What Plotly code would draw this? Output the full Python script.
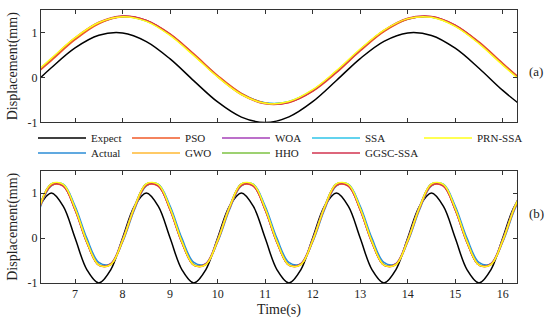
import plotly.graph_objects as go
from plotly.subplots import make_subplots

# ---------------- data ----------------
t_a = [6.0, 6.5, 7.0, 7.5, 8.0, 8.5, 9.0, 9.5, 10.0, 10.5, 11.0,
       11.5, 12.0, 12.5, 13.0, 13.5, 14.0, 14.5, 15.0, 15.5, 16.0, 16.5]

expect_a = [-0.279, 0.215, 0.657, 0.938, 0.989, 0.798, 0.412, -0.075, -0.544, -0.880, -1.000,
            -0.875, -0.537, -0.066, 0.420, 0.804, 0.991, 0.935, 0.650, 0.206, -0.288, -0.712]
actual_a = [-0.066, 0.400, 0.864, 1.210, 1.352, 1.258, 0.952, 0.506, 0.030, -0.362, -0.565,
            -0.540, -0.288, 0.130, 0.610, 1.035, 1.300, 1.342, 1.150, 0.772, 0.296, -0.156]
pso_a = [-0.085, 0.375, 0.840, 1.195, 1.350, 1.270, 0.970, 0.525, 0.045, -0.352, -0.570,
         -0.555, -0.310, 0.105, 0.588, 1.020, 1.295, 1.348, 1.165, 0.790, 0.315, -0.140]
gwo_a = [-0.058, 0.412, 0.874, 1.218, 1.355, 1.258, 0.948, 0.498, 0.020, -0.372, -0.575,
         -0.542, -0.284, 0.138, 0.620, 1.044, 1.306, 1.343, 1.145, 0.765, 0.287, -0.166]
woa_a = [-0.072, 0.398, 0.864, 1.214, 1.362, 1.268, 0.958, 0.508, 0.028, -0.368, -0.574,
         -0.548, -0.295, 0.126, 0.608, 1.037, 1.306, 1.350, 1.156, 0.776, 0.297, -0.158]
hho_a = [-0.070, 0.400, 0.866, 1.214, 1.357, 1.262, 0.953, 0.505, 0.027, -0.366, -0.570,
         -0.543, -0.290, 0.130, 0.611, 1.037, 1.303, 1.345, 1.150, 0.772, 0.294, -0.160]
ssa_a = [-0.064, 0.404, 0.866, 1.210, 1.350, 1.255, 0.950, 0.505, 0.032, -0.358, -0.560,
         -0.534, -0.284, 0.132, 0.610, 1.034, 1.298, 1.340, 1.148, 0.772, 0.298, -0.152]
ggsc_a = [-0.060, 0.410, 0.880, 1.228, 1.368, 1.270, 0.958, 0.505, 0.022, -0.378, -0.585,
          -0.556, -0.300, 0.125, 0.612, 1.045, 1.315, 1.355, 1.158, 0.775, 0.293, -0.165]
prn_a = [-0.050, 0.425, 0.885, 1.222, 1.352, 1.248, 0.935, 0.485, 0.012, -0.378, -0.575,
         -0.535, -0.272, 0.152, 0.632, 1.052, 1.308, 1.338, 1.135, 0.752, 0.275, -0.178]

t_b = [6.25, 6.5, 6.75, 7.0, 7.25, 7.5, 7.75, 8.0, 8.25, 8.5, 8.75, 9.0, 9.25, 9.5,
       9.75, 10.0, 10.25, 10.5, 10.75, 11.0, 11.25, 11.5, 11.75, 12.0, 12.25, 12.5,
       12.75, 13.0, 13.25, 13.5, 13.75, 14.0, 14.25, 14.5, 14.75, 15.0, 15.25, 15.5,
       15.75, 16.0, 16.25, 16.5]

expect_b = [0.707, 1.0, 0.707, 0.0, -0.707, -1.0, -0.707, 0.0,
            0.707, 1.0, 0.707, 0.0, -0.707, -1.0, -0.707, 0.0,
            0.707, 1.0, 0.707, 0.0, -0.707, -1.0, -0.707, 0.0,
            0.707, 1.0, 0.707, 0.0, -0.707, -1.0, -0.707, 0.0,
            0.707, 1.0, 0.707, 0.0, -0.707, -1.0, -0.707, 0.0,
            0.707, 1.0]
actual_b = [0.629, 1.161, 1.195, 0.710, -0.009, -0.541, -0.575, -0.090,
            0.629, 1.161, 1.195, 0.710, -0.009, -0.541, -0.575, -0.090,
            0.629, 1.161, 1.195, 0.710, -0.009, -0.541, -0.575, -0.090,
            0.629, 1.161, 1.195, 0.710, -0.009, -0.541, -0.575, -0.090,
            0.629, 1.161, 1.195, 0.710, -0.009, -0.541, -0.575, -0.090,
            0.629, 1.161]
pso_b = [0.657, 1.164, 1.152, 0.630, -0.097, -0.604, -0.592, -0.070,
         0.657, 1.164, 1.152, 0.630, -0.097, -0.604, -0.592, -0.070,
         0.657, 1.164, 1.152, 0.630, -0.097, -0.604, -0.592, -0.070,
         0.657, 1.164, 1.152, 0.630, -0.097, -0.604, -0.592, -0.070,
         0.657, 1.164, 1.152, 0.630, -0.097, -0.604, -0.592, -0.070,
         0.657, 1.164]
gwo_b = [0.671, 1.183, 1.171, 0.643, -0.091, -0.603, -0.591, -0.063,
         0.671, 1.183, 1.171, 0.643, -0.091, -0.603, -0.591, -0.063,
         0.671, 1.183, 1.171, 0.643, -0.091, -0.603, -0.591, -0.063,
         0.671, 1.183, 1.171, 0.643, -0.091, -0.603, -0.591, -0.063,
         0.671, 1.183, 1.171, 0.643, -0.091, -0.603, -0.591, -0.063,
         0.671, 1.183]
woa_b = [0.709, 1.203, 1.169, 0.625, -0.109, -0.603, -0.569, -0.025,
         0.709, 1.203, 1.169, 0.625, -0.109, -0.603, -0.569, -0.025,
         0.709, 1.203, 1.169, 0.625, -0.109, -0.603, -0.569, -0.025,
         0.709, 1.203, 1.169, 0.625, -0.109, -0.603, -0.569, -0.025,
         0.709, 1.203, 1.169, 0.625, -0.109, -0.603, -0.569, -0.025,
         0.709, 1.203]
hho_b = [0.697, 1.204, 1.180, 0.641, -0.097, -0.604, -0.580, -0.041,
         0.697, 1.204, 1.180, 0.641, -0.097, -0.604, -0.580, -0.041,
         0.697, 1.204, 1.180, 0.641, -0.097, -0.604, -0.580, -0.041,
         0.697, 1.204, 1.180, 0.641, -0.097, -0.604, -0.580, -0.041,
         0.697, 1.204, 1.180, 0.641, -0.097, -0.604, -0.580, -0.041,
         0.697, 1.204]
ssa_b = [0.668, 1.187, 1.187, 0.668, -0.068, -0.587, -0.587, -0.068,
         0.668, 1.187, 1.187, 0.668, -0.068, -0.587, -0.587, -0.068,
         0.668, 1.187, 1.187, 0.668, -0.068, -0.587, -0.587, -0.068,
         0.668, 1.187, 1.187, 0.668, -0.068, -0.587, -0.587, -0.068,
         0.668, 1.187, 1.187, 0.668, -0.068, -0.587, -0.587, -0.068,
         0.668, 1.187]
ggsc_b = [0.683, 1.184, 1.161, 0.628, -0.103, -0.604, -0.581, -0.048,
          0.683, 1.184, 1.161, 0.628, -0.103, -0.604, -0.581, -0.048,
          0.683, 1.184, 1.161, 0.628, -0.103, -0.604, -0.581, -0.048,
          0.683, 1.184, 1.161, 0.628, -0.103, -0.604, -0.581, -0.048,
          0.683, 1.184, 1.161, 0.628, -0.103, -0.604, -0.581, -0.048,
          0.683, 1.184]
prn_b = [0.685, 1.202, 1.190, 0.657, -0.085, -0.602, -0.590, -0.057,
         0.685, 1.202, 1.190, 0.657, -0.085, -0.602, -0.590, -0.057,
         0.685, 1.202, 1.190, 0.657, -0.085, -0.602, -0.590, -0.057,
         0.685, 1.202, 1.190, 0.657, -0.085, -0.602, -0.590, -0.057,
         0.685, 1.202, 1.190, 0.657, -0.085, -0.602, -0.590, -0.057,
         0.685, 1.202]

x_ticks = [7, 8, 9, 10, 11, 12, 13, 14, 15, 16]
y_ticks = [-1, 0, 1]

# name, colour, legend id, top-data, bottom-data  (drawing order)
series = [
    ("Expect",   "#000000", "legend",  expect_a, expect_b),
    ("Actual",   "#2b8cd6", "legend6", actual_a, actual_b),
    ("SSA",      "#2fc4e8", "legend4", ssa_a,    ssa_b),
    ("WOA",      "#a641b8", "legend3", woa_a,    woa_b),
    ("HHO",      "#7cc242", "legend8", hho_a,    hho_b),
    ("GWO",      "#ffb833", "legend7", gwo_a,    gwo_b),
    ("PSO",      "#f05a28", "legend2", pso_a,    pso_b),
    ("GGSC-SSA", "#d2334f", "legend9", ggsc_a,   ggsc_b),
    ("PRN-SSA",  "#ffff1a", "legend5", prn_a,    prn_b),
]

FONT = "Liberation Serif"

fig = make_subplots(rows=2, cols=1, vertical_spacing=0.176)

for name, color, leg, ya, yb in series:
    fig.add_trace(go.Scatter(x=t_a, y=ya, mode="lines", name=name,
                             line=dict(color=color, width=1.5, shape="spline"),
                             legend=leg, showlegend=True),
                  row=1, col=1)
    fig.add_trace(go.Scatter(x=t_b, y=yb, mode="lines", name=name,
                             line=dict(color=color, width=1.5, shape="spline"),
                             legend=leg, showlegend=False),
                  row=2, col=1)

axis_common = dict(showline=True, linecolor="#333333", linewidth=1, mirror="ticks",
                   ticks="inside", ticklen=4, tickcolor="#333333", showgrid=False,
                   zeroline=False, automargin=False,
                   tickfont=dict(family=FONT, size=12, color="#222222"))

fig.update_xaxes(range=[6.283, 16.3], tickvals=x_ticks, **axis_common)
fig.update_xaxes(showticklabels=False, row=1, col=1)
fig.update_xaxes(title=dict(text="Time(s)", font=dict(family=FONT, size=14, color="#222222"),
                            standoff=3), row=2, col=1)
fig.update_yaxes(range=[-1, 1.5], tickvals=y_ticks, ticktext=["-1", "0", "1"],
                 title=dict(text="Displacement(mm)", font=dict(family=FONT, size=14, color="#222222"),
                            standoff=6), **axis_common)

# legend grid: one single-entry legend per slot (column x, row y in paper units)
col_x = [-0.0168, 0.1807, 0.3697, 0.5588, 0.7941]
row_y = [0.531, 0.476]
slots = {
    "legend":  (col_x[0], row_y[0]), "legend2": (col_x[1], row_y[0]),
    "legend3": (col_x[2], row_y[0]), "legend4": (col_x[3], row_y[0]),
    "legend5": (col_x[4], row_y[0]), "legend6": (col_x[0], row_y[1]),
    "legend7": (col_x[1], row_y[1]), "legend8": (col_x[2], row_y[1]),
    "legend9": (col_x[3], row_y[1]),
}
legend_layout = {}
for key, (lx, ly) in slots.items():
    legend_layout[key] = dict(orientation="h", x=lx, y=ly, xanchor="left", yanchor="middle",
                              font=dict(family=FONT, size=11, color="#222222"),
                              itemwidth=48, bgcolor="rgba(0,0,0,0)", borderwidth=0)

fig.update_layout(
    width=550, height=326,
    margin=dict(l=41, r=33, t=10, b=43, autoexpand=False),
    paper_bgcolor="white", plot_bgcolor="white",
    showlegend=True,
    annotations=[
        dict(text="(a)", x=1.04, y=0.81, xref="paper", yref="paper", showarrow=False,
             font=dict(family=FONT, size=13, color="#222222"), xanchor="center"),
        dict(text="(b)", x=1.04, y=0.22, xref="paper", yref="paper", showarrow=False,
             font=dict(family=FONT, size=13, color="#222222"), xanchor="center"),
    ],
    **legend_layout,
)

fig.write_html("out.html", config={"displayModeBar": False},
               post_script="document.body.style.margin='0px';")
